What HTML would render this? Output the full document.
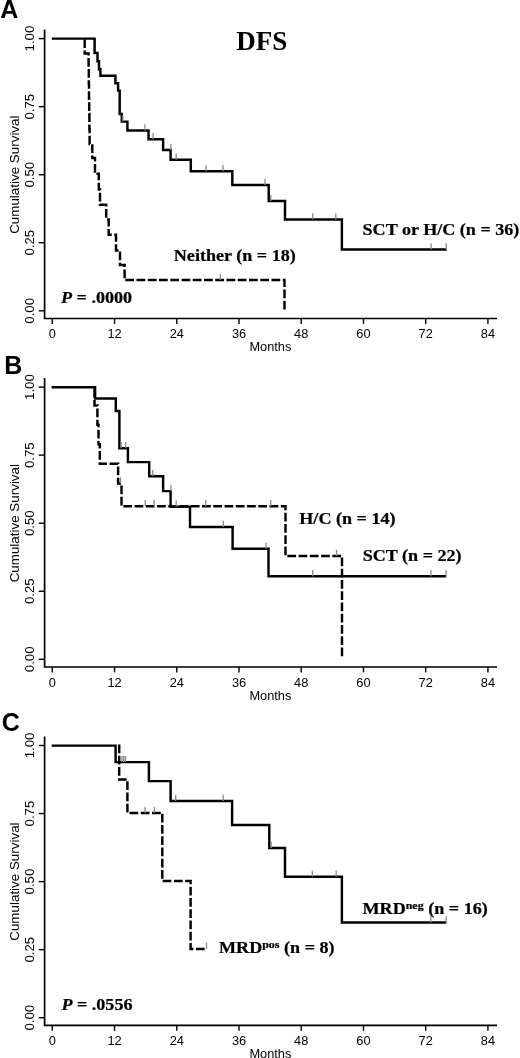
<!DOCTYPE html>
<html><head><meta charset="utf-8"><style>
html,body{margin:0;padding:0;background:#fff;width:520px;height:1058px;overflow:hidden}
svg{display:block;will-change:transform}
text{fill:#000}
</style></head><body>
<svg width="520" height="1058" viewBox="0 0 520 1058">
<rect width="520" height="1058" fill="#fff"/>
<path d="M44.6 29.5V318.5H497" fill="none" stroke="#000" stroke-width="1.7"/>
<line x1="38.7" y1="38.60" x2="44.6" y2="38.60" stroke="#000" stroke-width="1.4"/>
<text transform="translate(33.8 38.60) rotate(-90)" text-anchor="middle" style="font-family:'Liberation Sans',sans-serif;font-size:13.2px">1.00</text>
<line x1="38.7" y1="106.65" x2="44.6" y2="106.65" stroke="#000" stroke-width="1.4"/>
<text transform="translate(33.8 106.65) rotate(-90)" text-anchor="middle" style="font-family:'Liberation Sans',sans-serif;font-size:13.2px">0.75</text>
<line x1="38.7" y1="174.70" x2="44.6" y2="174.70" stroke="#000" stroke-width="1.4"/>
<text transform="translate(33.8 174.70) rotate(-90)" text-anchor="middle" style="font-family:'Liberation Sans',sans-serif;font-size:13.2px">0.50</text>
<line x1="38.7" y1="242.75" x2="44.6" y2="242.75" stroke="#000" stroke-width="1.4"/>
<text transform="translate(33.8 242.75) rotate(-90)" text-anchor="middle" style="font-family:'Liberation Sans',sans-serif;font-size:13.2px">0.25</text>
<line x1="38.7" y1="310.80" x2="44.6" y2="310.80" stroke="#000" stroke-width="1.4"/>
<text transform="translate(33.8 310.80) rotate(-90)" text-anchor="middle" style="font-family:'Liberation Sans',sans-serif;font-size:13.2px">0.00</text>
<line x1="52.30" y1="318.5" x2="52.30" y2="323.90" stroke="#000" stroke-width="1.4"/>
<text x="52.30" y="338.20" text-anchor="middle" style="font-family:'Liberation Sans',sans-serif;font-size:12.8px">0</text>
<line x1="114.53" y1="318.5" x2="114.53" y2="323.90" stroke="#000" stroke-width="1.4"/>
<text x="114.53" y="338.20" text-anchor="middle" style="font-family:'Liberation Sans',sans-serif;font-size:12.8px">12</text>
<line x1="176.76" y1="318.5" x2="176.76" y2="323.90" stroke="#000" stroke-width="1.4"/>
<text x="176.76" y="338.20" text-anchor="middle" style="font-family:'Liberation Sans',sans-serif;font-size:12.8px">24</text>
<line x1="239.00" y1="318.5" x2="239.00" y2="323.90" stroke="#000" stroke-width="1.4"/>
<text x="239.00" y="338.20" text-anchor="middle" style="font-family:'Liberation Sans',sans-serif;font-size:12.8px">36</text>
<line x1="301.23" y1="318.5" x2="301.23" y2="323.90" stroke="#000" stroke-width="1.4"/>
<text x="301.23" y="338.20" text-anchor="middle" style="font-family:'Liberation Sans',sans-serif;font-size:12.8px">48</text>
<line x1="363.46" y1="318.5" x2="363.46" y2="323.90" stroke="#000" stroke-width="1.4"/>
<text x="363.46" y="338.20" text-anchor="middle" style="font-family:'Liberation Sans',sans-serif;font-size:12.8px">60</text>
<line x1="425.69" y1="318.5" x2="425.69" y2="323.90" stroke="#000" stroke-width="1.4"/>
<text x="425.69" y="338.20" text-anchor="middle" style="font-family:'Liberation Sans',sans-serif;font-size:12.8px">72</text>
<line x1="487.92" y1="318.5" x2="487.92" y2="323.90" stroke="#000" stroke-width="1.4"/>
<text x="487.92" y="338.20" text-anchor="middle" style="font-family:'Liberation Sans',sans-serif;font-size:12.8px">84</text>
<text x="270.4" y="351.30" text-anchor="middle" style="font-family:'Liberation Sans',sans-serif;font-size:12.8px">Months</text>
<text transform="translate(19.4 174.70) rotate(-90)" text-anchor="middle" style="font-family:'Liberation Sans',sans-serif;font-size:13.4px">Cumulative Survival</text>
<path d="M 84.7 38.60 V 53.50 H 88.6 V 68.60 H 88.8 V 83.70 H 89 V 98.80 H 89.2 V 113.90 H 89.4 V 129.00 H 89.6 V 144.00 H 92.3 V 158.00 H 95 V 173.80 H 98.8 V 189.40 H 100 V 204.70 H 106.2 V 219.40 H 108.7 V 234.70 H 116 V 250.40 H 120 V 265.00 H 124.6 V 280.00 H 284.5 V 309.60" fill="none" stroke="#000" stroke-width="2.45" stroke-linejoin="miter" stroke-dasharray="8.75 2.5" stroke-dashoffset="10.55"/>
<path d="M 51.8 38.60 H 94.6 V 52.90 H 97.5 V 61.30 H 99 V 69.30 H 100.4 V 75.80 H 115.4 V 83.20 H 118.1 V 90.60 H 119.7 V 114.00 H 121.8 V 121.60 H 127.4 V 130.40 H 148.5 V 139.20 H 163.1 V 150.00 H 170.6 V 159.80 H 190.8 V 171.30 H 232.3 V 185.00 H 268.7 V 201.00 H 285 V 219.40 H 341.9 V 249.50 H 446.7" fill="none" stroke="#000" stroke-width="2.45" stroke-linejoin="miter"/>
<path d="M122.8 115.39999999999999V121.6M144.9 124.2V130.4M153.1 133.0V139.2M170.8 143.8V150.0M176.2 153.60000000000002V159.8M206 165.10000000000002V171.3M223 165.10000000000002V171.3M265 178.8V185.0M270.8 194.8V201.0M312.7 213.20000000000002V219.4M335.8 213.20000000000002V219.4M431.1 243.3V249.5M446.2 243.3V249.5" fill="none" stroke="#8a8a8a" stroke-width="1.3"/>
<path d="M220.4 273.8V280.0" fill="none" stroke="#8a8a8a" stroke-width="1.3"/>
<text x="236.2" y="49.5" style="font-family:'Liberation Serif',serif;font-weight:bold;font-size:27px">DFS</text>
<text transform="translate(362.5 235.4) scale(1 0.93)" style="font-family:'Liberation Serif',serif;font-weight:bold;font-size:18.1px;stroke:#000;stroke-width:0.25px">SCT or H/C (n = 36)</text>
<text transform="translate(173.8 261.3) scale(1 0.93)" style="font-family:'Liberation Serif',serif;font-weight:bold;font-size:18.1px;stroke:#000;stroke-width:0.25px">Neither (n = 18)</text>
<text transform="translate(61 302.7) scale(1 0.93)" style="font-family:'Liberation Serif',serif;font-weight:bold;font-size:18.1px;stroke:#000;stroke-width:0.25px"><tspan font-style="italic">P</tspan> = .0000</text>
<text x="0.3" y="17.6" style="font-family:'Liberation Sans',sans-serif;font-weight:bold;font-size:25px">A</text>
<path d="M44.6 378.0V667.0H497" fill="none" stroke="#000" stroke-width="1.7"/>
<line x1="38.7" y1="387.10" x2="44.6" y2="387.10" stroke="#000" stroke-width="1.4"/>
<text transform="translate(33.8 387.10) rotate(-90)" text-anchor="middle" style="font-family:'Liberation Sans',sans-serif;font-size:13.2px">1.00</text>
<line x1="38.7" y1="455.15" x2="44.6" y2="455.15" stroke="#000" stroke-width="1.4"/>
<text transform="translate(33.8 455.15) rotate(-90)" text-anchor="middle" style="font-family:'Liberation Sans',sans-serif;font-size:13.2px">0.75</text>
<line x1="38.7" y1="523.20" x2="44.6" y2="523.20" stroke="#000" stroke-width="1.4"/>
<text transform="translate(33.8 523.20) rotate(-90)" text-anchor="middle" style="font-family:'Liberation Sans',sans-serif;font-size:13.2px">0.50</text>
<line x1="38.7" y1="591.25" x2="44.6" y2="591.25" stroke="#000" stroke-width="1.4"/>
<text transform="translate(33.8 591.25) rotate(-90)" text-anchor="middle" style="font-family:'Liberation Sans',sans-serif;font-size:13.2px">0.25</text>
<line x1="38.7" y1="659.30" x2="44.6" y2="659.30" stroke="#000" stroke-width="1.4"/>
<text transform="translate(33.8 659.30) rotate(-90)" text-anchor="middle" style="font-family:'Liberation Sans',sans-serif;font-size:13.2px">0.00</text>
<line x1="52.30" y1="667.0" x2="52.30" y2="672.40" stroke="#000" stroke-width="1.4"/>
<text x="52.30" y="686.70" text-anchor="middle" style="font-family:'Liberation Sans',sans-serif;font-size:12.8px">0</text>
<line x1="114.53" y1="667.0" x2="114.53" y2="672.40" stroke="#000" stroke-width="1.4"/>
<text x="114.53" y="686.70" text-anchor="middle" style="font-family:'Liberation Sans',sans-serif;font-size:12.8px">12</text>
<line x1="176.76" y1="667.0" x2="176.76" y2="672.40" stroke="#000" stroke-width="1.4"/>
<text x="176.76" y="686.70" text-anchor="middle" style="font-family:'Liberation Sans',sans-serif;font-size:12.8px">24</text>
<line x1="239.00" y1="667.0" x2="239.00" y2="672.40" stroke="#000" stroke-width="1.4"/>
<text x="239.00" y="686.70" text-anchor="middle" style="font-family:'Liberation Sans',sans-serif;font-size:12.8px">36</text>
<line x1="301.23" y1="667.0" x2="301.23" y2="672.40" stroke="#000" stroke-width="1.4"/>
<text x="301.23" y="686.70" text-anchor="middle" style="font-family:'Liberation Sans',sans-serif;font-size:12.8px">48</text>
<line x1="363.46" y1="667.0" x2="363.46" y2="672.40" stroke="#000" stroke-width="1.4"/>
<text x="363.46" y="686.70" text-anchor="middle" style="font-family:'Liberation Sans',sans-serif;font-size:12.8px">60</text>
<line x1="425.69" y1="667.0" x2="425.69" y2="672.40" stroke="#000" stroke-width="1.4"/>
<text x="425.69" y="686.70" text-anchor="middle" style="font-family:'Liberation Sans',sans-serif;font-size:12.8px">72</text>
<line x1="487.92" y1="667.0" x2="487.92" y2="672.40" stroke="#000" stroke-width="1.4"/>
<text x="487.92" y="686.70" text-anchor="middle" style="font-family:'Liberation Sans',sans-serif;font-size:12.8px">84</text>
<text x="270.4" y="699.80" text-anchor="middle" style="font-family:'Liberation Sans',sans-serif;font-size:12.8px">Months</text>
<text transform="translate(19.4 523.20) rotate(-90)" text-anchor="middle" style="font-family:'Liberation Sans',sans-serif;font-size:13.4px">Cumulative Survival</text>
<path d="M94.5 387.2 V405.4 H97.4 V424.8 H98.5 V444.2 H99.8 V463.8 H118.1 V483.5 H121.5 V506.3 H285.5 V556 H342 V657" fill="none" stroke="#000" stroke-width="2.45" stroke-linejoin="miter" stroke-dasharray="8.75 2.5" stroke-dashoffset="9.60"/>
<path d="M51.6 387.2 H95.1 V398.5 H115.8 V411 H119.4 V448.3 H127.9 V462.1 H149.2 V476.3 H163.1 V491.1 H170.6 V506.8 H190 V527 H232.6 V548.8 H268.5 V576.3 H446.2" fill="none" stroke="#000" stroke-width="2.45" stroke-linejoin="miter"/>
<path d="M121.2 442.1V448.3M125.8 442.1V448.3M152.7 470.1V476.3M171 484.90000000000003V491.1M176.2 500.6V506.8M223.4 520.8V527M266 542.5999999999999V548.8M312.7 570.0999999999999V576.3M431 570.0999999999999V576.3M446 570.0999999999999V576.3" fill="none" stroke="#8a8a8a" stroke-width="1.3"/>
<path d="M120.4 477.3V483.5M145.2 500.1V506.3M154.1 500.1V506.3M205.8 500.1V506.3M270.7 500.1V506.3M336.5 549.8V556" fill="none" stroke="#8a8a8a" stroke-width="1.3"/>
<text transform="translate(299.3 524.2) scale(1 0.93)" style="font-family:'Liberation Serif',serif;font-weight:bold;font-size:18.1px;stroke:#000;stroke-width:0.25px">H/C (n = 14)</text>
<text transform="translate(362.7 561.3) scale(1 0.93)" style="font-family:'Liberation Serif',serif;font-weight:bold;font-size:18.1px;stroke:#000;stroke-width:0.25px">SCT (n = 22)</text>
<text x="4.3" y="374" style="font-family:'Liberation Sans',sans-serif;font-weight:bold;font-size:25px">B</text>
<path d="M44.6 736.4V1025.4H497" fill="none" stroke="#000" stroke-width="1.7"/>
<line x1="38.7" y1="745.50" x2="44.6" y2="745.50" stroke="#000" stroke-width="1.4"/>
<text transform="translate(33.8 745.50) rotate(-90)" text-anchor="middle" style="font-family:'Liberation Sans',sans-serif;font-size:13.2px">1.00</text>
<line x1="38.7" y1="813.55" x2="44.6" y2="813.55" stroke="#000" stroke-width="1.4"/>
<text transform="translate(33.8 813.55) rotate(-90)" text-anchor="middle" style="font-family:'Liberation Sans',sans-serif;font-size:13.2px">0.75</text>
<line x1="38.7" y1="881.60" x2="44.6" y2="881.60" stroke="#000" stroke-width="1.4"/>
<text transform="translate(33.8 881.60) rotate(-90)" text-anchor="middle" style="font-family:'Liberation Sans',sans-serif;font-size:13.2px">0.50</text>
<line x1="38.7" y1="949.65" x2="44.6" y2="949.65" stroke="#000" stroke-width="1.4"/>
<text transform="translate(33.8 949.65) rotate(-90)" text-anchor="middle" style="font-family:'Liberation Sans',sans-serif;font-size:13.2px">0.25</text>
<line x1="38.7" y1="1017.70" x2="44.6" y2="1017.70" stroke="#000" stroke-width="1.4"/>
<text transform="translate(33.8 1017.70) rotate(-90)" text-anchor="middle" style="font-family:'Liberation Sans',sans-serif;font-size:13.2px">0.00</text>
<line x1="52.30" y1="1025.4" x2="52.30" y2="1030.80" stroke="#000" stroke-width="1.4"/>
<text x="52.30" y="1045.10" text-anchor="middle" style="font-family:'Liberation Sans',sans-serif;font-size:12.8px">0</text>
<line x1="114.53" y1="1025.4" x2="114.53" y2="1030.80" stroke="#000" stroke-width="1.4"/>
<text x="114.53" y="1045.10" text-anchor="middle" style="font-family:'Liberation Sans',sans-serif;font-size:12.8px">12</text>
<line x1="176.76" y1="1025.4" x2="176.76" y2="1030.80" stroke="#000" stroke-width="1.4"/>
<text x="176.76" y="1045.10" text-anchor="middle" style="font-family:'Liberation Sans',sans-serif;font-size:12.8px">24</text>
<line x1="239.00" y1="1025.4" x2="239.00" y2="1030.80" stroke="#000" stroke-width="1.4"/>
<text x="239.00" y="1045.10" text-anchor="middle" style="font-family:'Liberation Sans',sans-serif;font-size:12.8px">36</text>
<line x1="301.23" y1="1025.4" x2="301.23" y2="1030.80" stroke="#000" stroke-width="1.4"/>
<text x="301.23" y="1045.10" text-anchor="middle" style="font-family:'Liberation Sans',sans-serif;font-size:12.8px">48</text>
<line x1="363.46" y1="1025.4" x2="363.46" y2="1030.80" stroke="#000" stroke-width="1.4"/>
<text x="363.46" y="1045.10" text-anchor="middle" style="font-family:'Liberation Sans',sans-serif;font-size:12.8px">60</text>
<line x1="425.69" y1="1025.4" x2="425.69" y2="1030.80" stroke="#000" stroke-width="1.4"/>
<text x="425.69" y="1045.10" text-anchor="middle" style="font-family:'Liberation Sans',sans-serif;font-size:12.8px">72</text>
<line x1="487.92" y1="1025.4" x2="487.92" y2="1030.80" stroke="#000" stroke-width="1.4"/>
<text x="487.92" y="1045.10" text-anchor="middle" style="font-family:'Liberation Sans',sans-serif;font-size:12.8px">84</text>
<text x="270.4" y="1058.20" text-anchor="middle" style="font-family:'Liberation Sans',sans-serif;font-size:12.8px">Months</text>
<text transform="translate(19.4 881.60) rotate(-90)" text-anchor="middle" style="font-family:'Liberation Sans',sans-serif;font-size:13.4px">Cumulative Survival</text>
<path d="M115.6 745.6 H119.2 V779.5 H127.4 V812.9 H162.3 V881 H190.6 V949 H206.5" fill="none" stroke="#000" stroke-width="2.45" stroke-linejoin="miter" stroke-dasharray="8.75 2.5" stroke-dashoffset="8.80"/>
<path d="M51.6 745.6 H115.6 V762.1 H148.9 V781.1 H170.6 V801 H232.1 V825 H269.3 V848 H285 V876.7 H341.9 V922.5 H446.3" fill="none" stroke="#000" stroke-width="2.45" stroke-linejoin="miter"/>
<path d="M121.9 755.9V762.1M123.7 755.9V762.1M125.4 755.9V762.1M175.7 794.8V801M223.2 794.8V801M271.2 841.8V848M312.3 870.5V876.7M336.2 870.5V876.7M430.8 916.3V922.5M446.2 916.3V922.5" fill="none" stroke="#8a8a8a" stroke-width="1.3"/>
<path d="M145.1 806.6999999999999V812.9M154.3 806.6999999999999V812.9M206.5 942.8V949" fill="none" stroke="#8a8a8a" stroke-width="1.3"/>
<text transform="translate(219 953) scale(1 0.93)" style="font-family:'Liberation Serif',serif;font-weight:bold;font-size:18.1px;stroke:#000;stroke-width:0.25px">MRD<tspan font-size="12px" dy="-5.5">pos</tspan><tspan dy="5.5"> (n = 8)</tspan></text>
<text transform="translate(362.5 913.8) scale(1 0.93)" style="font-family:'Liberation Serif',serif;font-weight:bold;font-size:18.1px;stroke:#000;stroke-width:0.25px">MRD<tspan font-size="12px" dy="-5.5">neg</tspan><tspan dy="5.5"> (n = 16)</tspan></text>
<text transform="translate(61.4 1009.6) scale(1 0.93)" style="font-family:'Liberation Serif',serif;font-weight:bold;font-size:18.1px;stroke:#000;stroke-width:0.25px"><tspan font-style="italic">P</tspan> = .0556</text>
<text x="1.7" y="731.3" style="font-family:'Liberation Sans',sans-serif;font-weight:bold;font-size:25px">C</text>
</svg>
</body></html>
